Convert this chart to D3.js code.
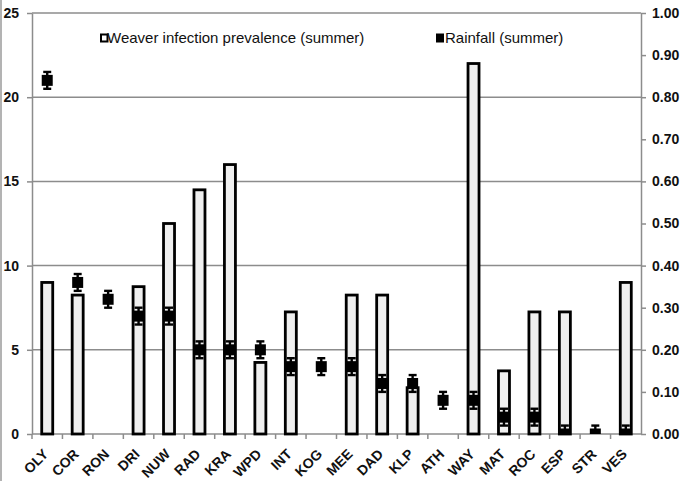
<!DOCTYPE html>
<html lang="en">
  <head>
    <meta charset="utf-8">
    <title>Weaver infection prevalence and rainfall</title>
    <style>
      body { margin: 0; background: #fff; }
      svg { display: block; font-family: "Liberation Sans", Arial, sans-serif; }
      .grid line { stroke: #8c8c8c; stroke-width: 1.5; }
      .axis path, .axis line { stroke: #8c8c8c; stroke-width: 1.5; }
      .axis text { font-size: 14px; font-weight: bold; fill: #111; }
      .bar { fill: #efefef; stroke: #000; stroke-width: 2.8; }
      .rain { fill: #000; }
      .err { stroke: #000; stroke-width: 2.4; }
      .legend text { font-size: 15px; fill: #111; }
    </style>
  </head>
  <body>
    <svg width="685" height="481" id="svg"></svg>
    <script src="https://d3js.org/d3.v7.min.js"></script>
    <script>

    var sites = ["OLY", "COR", "RON", "DRI", "NUW", "RAD", "KRA", "WPD", "INT", "KOG",
                 "MEE", "DAD", "KLP", "ATH", "WAY", "MAT", "ROC", "ESP", "STR", "VES"];
    // prevalence (right axis), null = no bar drawn
    var prevalence = [0.36, 0.33, null, 0.35, 0.50, 0.58, 0.64, 0.17, 0.29, null,
                      0.33, 0.33, 0.11, null, 0.88, 0.15, 0.29, 0.29, null, 0.36];
    // rainfall (left axis)
    var rainfall = [21, 9, 8, 7, 7, 5, 5, 5, 4, 4, 4, 3, 3, 2, 2, 1, 1, 0, 0, 0];
    var rainErr = [0.5, 0.5, 0.5, 0.5, 0.5, 0.5, 0.5, 0.5, 0.5, 0.5,
                   0.5, 0.5, 0.5, 0.5, 0.5, 0.5, 0.5, 0.5, 0.5, 0.5];
    var leftTicks = [0, 5, 10, 15, 20, 25];
    var rightTicks = [0, 0.1, 0.2, 0.3, 0.4, 0.5, 0.6, 0.7, 0.8, 0.9, 1.0];

    var svg = d3.select("svg"),
        margin = {top: 13, right: 44, bottom: 47, left: 32},
        width = +svg.attr("width") - margin.left - margin.right,
        height = +svg.attr("height") - margin.top - margin.bottom;

    var x = d3.scaleBand().domain(sites).range([0, width]),
        yL = d3.scaleLinear().domain([0, 25]).range([height, 0]),
        yR = d3.scaleLinear().domain([0, 1]).range([height, 0]);

    // thin frame line at the left edge
    svg.append("line")
        .attr("x1", 1).attr("x2", 1).attr("y1", 0).attr("y2", 481)
        .attr("stroke", "#9a9a9a").attr("stroke-width", 1.5);

    var g = svg.append("g")
        .attr("transform", "translate(" + margin.left + "," + margin.top + ")");

    g.append("g")
        .attr("class", "grid")
      .selectAll("line")
      .data(leftTicks.slice(1))
      .enter().append("line")
        .attr("x1", 0).attr("x2", width)
        .attr("y1", function(d) { return yL(d); })
        .attr("y2", function(d) { return yL(d); });

    // left axis
    g.append("g")
        .attr("class", "axis")
        .call(d3.axisLeft(yL).tickValues(leftTicks).tickSize(5).tickSizeOuter(0).tickPadding(8));

    // right axis
    g.append("g")
        .attr("class", "axis")
        .attr("transform", "translate(" + width + ",0)")
        .call(d3.axisRight(yR).tickValues(rightTicks).tickFormat(d3.format(".2f"))
              .tickSize(5).tickSizeOuter(0).tickPadding(6));

    // bottom axis, ticks at band boundaries
    var xa = g.append("g")
        .attr("class", "axis")
        .attr("transform", "translate(0," + height + ")");
    xa.append("line").attr("x1", 0).attr("x2", width);
    xa.selectAll(".btick")
      .data(sites)
      .enter().append("line")
        .attr("class", "btick")
        .attr("x1", function(d) { return x(d); })
        .attr("x2", function(d) { return x(d); })
        .attr("y1", 0).attr("y2", 5);
    // slanted labels, baseline ends just below each band centre
    xa.selectAll(".lbl")
      .data(sites)
      .enter().append("text")
        .attr("class", "lbl")
        .attr("transform", function(d) {
          return "translate(" + (x(d) + x.bandwidth() / 2 + 2) + ",21) rotate(-45)";
        })
        .attr("text-anchor", "end")
        .text(function(d) { return d; });

    // bars
    var bw = 11;
    g.selectAll(".bar")
      .data(sites.filter(function(d, i) { return prevalence[i] !== null; }))
      .enter().append("rect")
        .attr("class", "bar")
        .attr("x", function(d) { return x(d) + x.bandwidth() / 2 - bw / 2; })
        .attr("y", function(d) { return yR(prevalence[sites.indexOf(d)]); })
        .attr("width", bw)
        .attr("height", function(d) { return height - yR(prevalence[sites.indexOf(d)]); });

    // rainfall markers with error bars (clipped at the zero line)
    g.append("clipPath").attr("id", "plotclip")
      .append("rect").attr("x", -5).attr("y", -5).attr("width", width + 10).attr("height", height + 5);

    var pts = g.append("g").attr("clip-path", "url(#plotclip)")
      .selectAll(".pt")
      .data(sites)
      .enter().append("g")
        .attr("transform", function(d) {
          return "translate(" + (x(d) + x.bandwidth() / 2) + ",0)";
        });
    pts.append("line")
        .attr("class", "err")
        .attr("x1", 0).attr("x2", 0)
        .attr("y1", function(d, i) { return yL(rainfall[i] + rainErr[i]); })
        .attr("y2", function(d, i) { return yL(rainfall[i] - rainErr[i]); });
    pts.append("line")
        .attr("class", "err")
        .attr("x1", -4).attr("x2", 4)
        .attr("y1", function(d, i) { return yL(rainfall[i] + rainErr[i]); })
        .attr("y2", function(d, i) { return yL(rainfall[i] + rainErr[i]); });
    pts.append("line")
        .attr("class", "err")
        .attr("x1", -4).attr("x2", 4)
        .attr("y1", function(d, i) { return yL(rainfall[i] - rainErr[i]); })
        .attr("y2", function(d, i) { return yL(rainfall[i] - rainErr[i]); });
    pts.append("rect")
        .attr("class", "rain")
        .attr("x", -5.5).attr("width", 11)
        .attr("y", function(d, i) { return yL(rainfall[i]) - 5.5; })
        .attr("height", 11);

    // legend
    var lg = svg.append("g").attr("class", "legend");
    lg.append("rect")
        .attr("x", 101).attr("y", 34.5).attr("width", 6.5).attr("height", 7)
        .attr("fill", "#fff").attr("stroke", "#000").attr("stroke-width", 2);
    lg.append("text").attr("x", 107).attr("y", 43).text("Weaver infection prevalence (summer)");
    lg.append("rect")
        .attr("x", 436).attr("y", 33.5).attr("width", 8).attr("height", 9).attr("fill", "#000");
    lg.append("text").attr("x", 445).attr("y", 43).text("Rainfall (summer)");

    </script>
  </body>
</html>
